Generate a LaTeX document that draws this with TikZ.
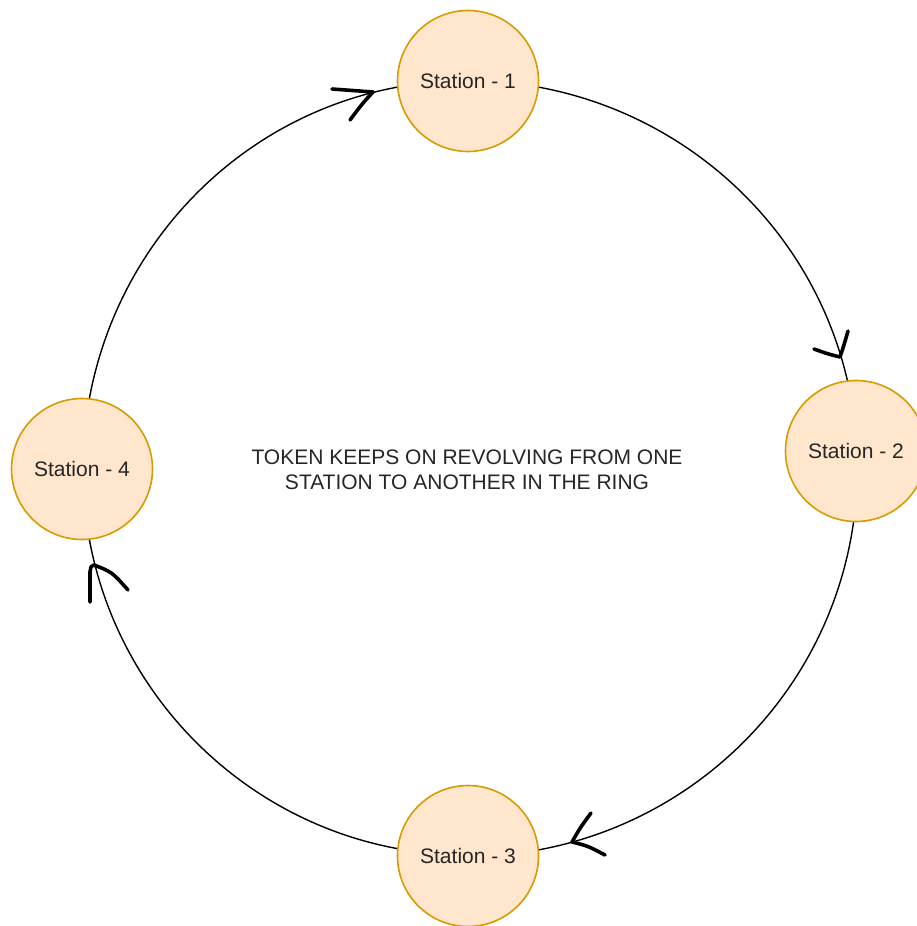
\documentclass[tikz,border=0pt]{standalone}
\usepackage{fontspec}
\setmainfont{Liberation Sans}
\definecolor{stfill}{HTML}{FFE6CC}
\definecolor{stline}{HTML}{D79B00}
\definecolor{txt}{HTML}{262626}
\begin{document}
\begin{tikzpicture}[x=1pt,y=1pt,
  station/.style={circle, draw=stline, fill=stfill, line width=1.6pt,
    minimum size=141pt, inner sep=0pt, text=txt,
    font=\fontsize{21}{25}\selectfont},
  ringline/.style={draw=black, line width=1.4pt},
  hand/.style={draw=black, line width=3.6pt, line cap=round, line join=round},
  caption/.style={align=center, text=txt, font=\fontsize{21}{25}\selectfont}]
\useasboundingbox (0,0) rectangle (917,-926);

% stations
\node[station] (s1) at (468,-81)  {Station - 1};
\node[station] (s2) at (856,-451) {Station - 2};
\node[station] (s3) at (468,-856) {Station - 3};
\node[station] (s4) at (82,-469)  {Station - 4};

% ring connecting the stations (circular arcs through the station centres)
\draw[ringline] (s1.-5.27)   to[out=-10.53, in=103.03, looseness=0.928] (s2.97.77);
\draw[ringline] (s2.-92.77)  to[out=-98.03, in=10.53,  looseness=0.94]  (s3.5.27);
\draw[ringline] (s3.174.73)  to[out=169.47, in=-79.47, looseness=0.933] (s4.-84.73);
\draw[ringline] (s4.84.73)   to[out=79.47,  in=190.53, looseness=0.933] (s1.185.27);

% hand-drawn direction marks
\draw[hand] (332,-89) .. controls (352,-90) .. (373,-92) .. controls (362,-104) .. (350,-120);
\draw[hand] (814,-349) .. controls (828,-354) .. (840,-357) .. controls (844,-345) .. (848,-331);
\draw[hand] (591,-813) .. controls (580,-828) .. (572,-842) .. controls (588,-846) .. (605,-855);
\draw[hand] (90,-602) -- (90,-572) .. controls (91,-566) .. (94,-565) .. controls (112,-572) .. (128,-590);

% caption in the middle
\node[caption] (cap) at (467,-470) {TOKEN KEEPS ON REVOLVING FROM ONE\\ STATION TO ANOTHER IN THE RING};
\end{tikzpicture}
\end{document}
